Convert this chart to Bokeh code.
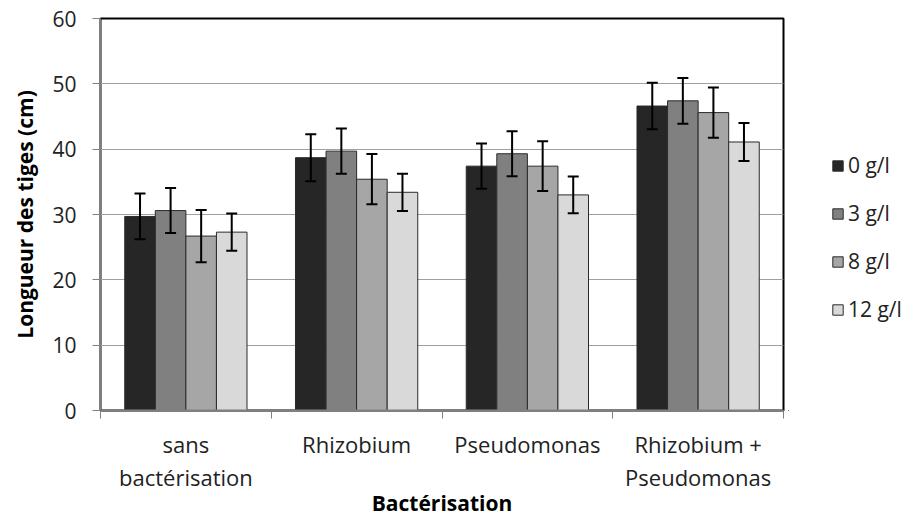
from bokeh.plotting import figure
from bokeh.layouts import row
from bokeh.models import (Range1d, FixedTicker, Legend, LegendItem, Whisker,
                          ColumnDataSource, TeeHead)
from bokeh.embed import file_html
from bokeh.resources import INLINE

# Treatments (x categories) and salt doses (series)
categories = ["sans\nbactérisation", "Rhizobium", "Pseudomonas", "Rhizobium +\nPseudomonas"]
doses = ["0 g/l", "3 g/l", "8 g/l", "12 g/l"]

# Stem length (cm) per dose, one value per treatment
len_0 = [29.7, 38.7, 37.4, 46.6]
len_3 = [30.6, 39.7, 39.3, 47.4]
len_8 = [26.7, 35.4, 37.4, 45.6]
len_12 = [27.3, 33.4, 33.0, 41.1]

# Error bar half-widths (cm)
err_0 = [3.5, 3.6, 3.45, 3.55]
err_3 = [3.45, 3.45, 3.45, 3.5]
err_8 = [4.0, 3.85, 3.8, 3.85]
err_12 = [2.85, 2.85, 2.8, 2.9]

y_ticks = [0, 10, 20, 30, 40, 50, 60]

series = [len_0, len_3, len_8, len_12]
errors = [err_0, err_3, err_8, err_12]
colors = ["#262626", "#808080", "#a6a6a6", "#d9d9d9"]

FONT = "Open Sans"
bar_w = 0.179
BAR_LINE = "#2a2a2a"

p = figure(width=788, height=519, x_range=Range1d(0, 4), y_range=Range1d(0, 60),
           output_backend="svg", toolbar_location=None,
           min_border_left=100, min_border_right=5,
           min_border_top=18, min_border_bottom=109)
p.background_fill_color = "white"
p.border_fill_color = "white"
p.outline_line_color = "black"
p.outline_line_width = 2

for k, (vals, errs, col) in enumerate(zip(series, errors, colors)):
    off = (k - 1.5) * bar_w
    xs = [i + 0.5 + off for i in range(len(categories))]
    src = ColumnDataSource(dict(x=xs, top=vals,
                                upper=[v + e for v, e in zip(vals, errs)],
                                lower=[v - e for v, e in zip(vals, errs)]))
    p.vbar(x="x", top="top", width=bar_w, source=src,
           fill_color=col, line_color=BAR_LINE, line_width=1)
    w = Whisker(source=src, base="x", upper="upper", lower="lower", level="overlay",
                line_color="black", line_width=2,
                upper_head=TeeHead(size=11, line_width=2, line_color="black"),
                lower_head=TeeHead(size=11, line_width=2, line_color="black"))
    p.add_layout(w)

# Grid
p.xgrid.grid_line_color = None
p.ygrid.grid_line_color = "#a0a0a0"
p.ygrid.grid_line_width = 1
p.ygrid.ticker = FixedTicker(ticks=y_ticks)

# Y axis
ya = p.yaxis[0]
ya.ticker = FixedTicker(ticks=y_ticks)
ya.axis_label = "Longueur des tiges (cm)"
ya.axis_label_text_font = FONT
ya.axis_label_text_font_style = "bold"
ya.axis_label_text_font_size = "21px"
ya.axis_label_text_color = "black"
ya.axis_label_standoff = 10
ya.major_label_text_font = FONT
ya.major_label_text_font_size = "21px"
ya.major_label_text_color = "#222222"
ya.major_label_standoff = 16
ya.major_tick_in = 0
ya.major_tick_out = 8
ya.major_tick_line_color = "#808080"
ya.minor_tick_line_color = None
ya.axis_line_color = "#808080"
ya.axis_line_width = 1

# X axis: labels centred on categories, tick marks on category boundaries
xa = p.xaxis[0]
xa.ticker = FixedTicker(ticks=[i + 0.5 for i in range(len(categories))],
                        minor_ticks=list(range(len(categories) + 1)))
xa.major_label_overrides = {i + 0.5: c for i, c in enumerate(categories)}
xa.major_label_text_font = FONT
xa.major_label_text_font_size = "22px"
xa.major_label_text_color = "#222222"
xa.major_label_text_line_height = 1.1
xa.major_label_standoff = 10
xa.major_tick_line_color = None
xa.minor_tick_in = 0
xa.minor_tick_out = 8
xa.minor_tick_line_color = "#808080"
xa.axis_line_color = "#808080"
xa.axis_line_width = 2
xa.axis_label = "Bactérisation"
xa.axis_label_text_font = FONT
xa.axis_label_text_font_style = "bold"
xa.axis_label_text_font_size = "21px"
xa.axis_label_text_color = "black"
xa.axis_label_standoff = -6

# Legend panel beside the plot; its bar renderers sit outside the visible range
lp = figure(width=127, height=519, x_range=Range1d(0, 1), y_range=Range1d(0, 1),
            output_backend="svg", toolbar_location=None,
            x_axis_type=None, y_axis_type=None, min_border=0)
lp.outline_line_color = None
lp.xgrid.grid_line_color = None
lp.ygrid.grid_line_color = None
items = []
for col, lab in zip(colors, doses):
    r = lp.vbar(x=[-5], top=[-5], width=0.1, fill_color=col, line_color=BAR_LINE, line_width=1)
    items.append(LegendItem(label=lab, renderers=[r]))

legend = Legend(items=items, location=(43, 87), orientation="vertical",
                glyph_width=13, glyph_height=13, label_text_font=FONT,
                label_text_font_size="21px", label_text_color="#222222",
                label_height=24, label_standoff=4, spacing=20, padding=0, margin=0,
                border_line_color=None, background_fill_alpha=0)
lp.add_layout(legend)

layout = row(p, lp, spacing=0)
open("out.html", "w").write(file_html(layout, INLINE))
